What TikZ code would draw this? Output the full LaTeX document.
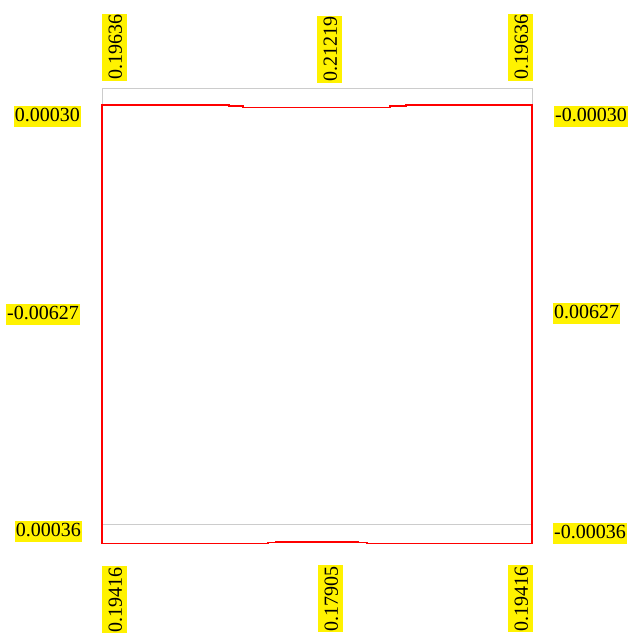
\documentclass[tikz,border=0pt]{standalone}
\usepackage{fontspec}
\setmainfont{Liberation Serif}
\usepackage{tikz}
\usetikzlibrary{positioning,calc}

\tikzset{
  val/.style={fill=yellow, inner xsep=1pt, inner ysep=0pt, text height=16pt, text depth=5pt,
    font=\fontsize{20}{24}\selectfont},
  vval/.style={val, rotate=90, text height=20pt, text depth=5pt},
  frame/.style={draw=black!20, line width=0.8pt},
  outline/.style={draw=red, line width=1.6pt, line join=miter}
}

\begin{document}
\begin{tikzpicture}[x=1pt,y=-1pt]
    \useasboundingbox (0,0) rectangle (628,637);
    % outer frame
    \draw[frame] (102,88) rectangle (532,524);
    % deformed shape
    \draw[outline] (102,105) -- (229,105) -- (229,106) -- (243,106) -- (243,107.3)
        -- (390,107.3) -- (390,106) -- (406,106) -- (406,105) -- (532,105)
        -- (532,543.3) -- (367,543.3) -- (367,542.6) -- (358,542.6) -- (358,541.7)
        -- (276,541.7) -- (276,542.6) -- (268,542.6) -- (268,543.3) -- (102,543.3) -- cycle;
    % top values
    \node[vval, anchor=south west] (t1) at (127,81) {0.19636};
    \node[vval, anchor=south west] (t2) at (342,83) {0.21219};
    \node[vval, anchor=south west] (t3) at (533,81) {0.19636};
    % bottom values
    \node[vval, anchor=south east] (b1) at (127,566) {0.19416};
    \node[vval, anchor=south east] (b2) at (343,565) {0.17905};
    \node[vval, anchor=south east] (b3) at (533,565) {0.19416};
    % left values
    \node[val, anchor=east] (l1) at (81,116) {0.00030};
    \node[val, anchor=east] (l2) at (80,314) {-0.00627};
    \node[val, anchor=east] (l3) at (82,531) {0.00036};
    % right values
    \node[val, anchor=west] (r1) at (554,116) {-0.00030};
    \node[val, anchor=west] (r2) at (553,313) {0.00627};
    \node[val, anchor=west] (r3) at (553,533) {-0.00036};
\end{tikzpicture}
\end{document}
